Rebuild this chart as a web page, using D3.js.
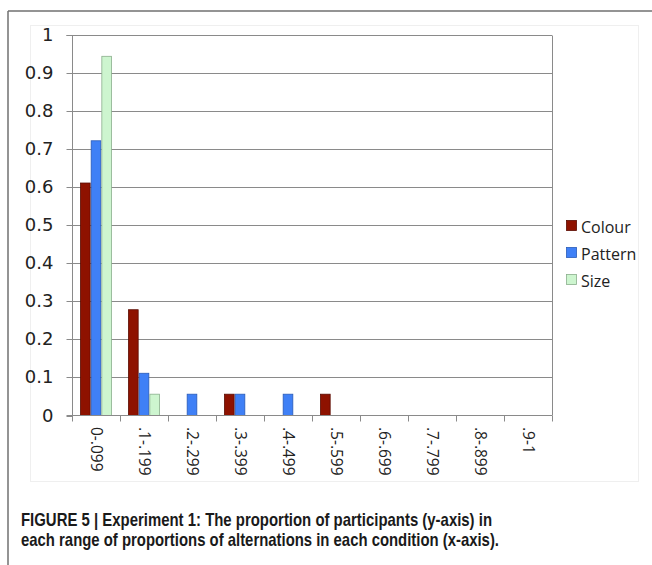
<!DOCTYPE html>
<html><head><meta charset="utf-8">
<script src="https://cdn.jsdelivr.net/npm/d3@7"></script>
<style>body{margin:0;background:#fff}svg{display:block}</style>
</head><body>
<svg id="c" width="652" height="565"></svg>
<script>
const categories = ["0-.099",".1-.199",".2-.299",".3-.399",".4-.499",".5-.599",".6-.699",".7-.799",".8-.899",".9-1"];
const seriesNames = ["Colour","Pattern","Size"];
const colourVals  = [0.611,0.278,0,0.056,0,0.056,0,0,0,0];
const patternVals = [0.722,0.111,0.056,0.056,0.056,0,0,0,0,0];
const sizeVals    = [0.944,0.056,0,0,0,0,0,0,0,0];
const yTicks = [0,0.1,0.2,0.3,0.4,0.5,0.6,0.7,0.8,0.9,1];
const fills   = ["#8e1200","#3f80f6","#cdf5cf"];
const strokes = ["#5a0a00","#2a5bb8","#8aae8c"];
const captionLines = [
  "FIGURE 5 | Experiment 1: The proportion of participants (y-axis) in",
  "each range of proportions of alternations in each condition (x-axis)."
];
const FONT = "'Open Sans', sans-serif";
const TICKFONT = "'DejaVu Sans', sans-serif";

const svg = d3.select("#c");
// figure frame
svg.append("line").attr("x1",8).attr("x2",652).attr("y1",11).attr("y2",11).attr("stroke","#707070").attr("stroke-width",1.5);
svg.append("line").attr("x1",8).attr("x2",8).attr("y1",11).attr("y2",565).attr("stroke","#707070").attr("stroke-width",1.5);
// faint chart area border
svg.append("rect").attr("x",30.5).attr("y",25.5).attr("width",608).attr("height",456).attr("fill","none").attr("stroke","#efefef");

const L=72, R=552, T=35, B=415.5;
const x = d3.scaleBand().domain(categories).range([L,R]).paddingInner(1/3).paddingOuter(1/6);
const xs = d3.scaleBand().domain(seriesNames).range([0,x.bandwidth()]);
const y = d3.scaleLinear().domain([0,1]).range([B,T]);

const g = svg.append("g");
// gridlines
g.selectAll("line.grid").data(yTicks.filter(d=>d>0)).join("line")
  .attr("x1",L).attr("x2",R).attr("y1",d=>Math.round(y(d))+0.5).attr("y2",d=>Math.round(y(d))+0.5)
  .attr("stroke","#8a8a8a").attr("stroke-width",1);
// right border of plot
g.append("line").attr("x1",R+0.5).attr("x2",R+0.5).attr("y1",Math.round(y(1))+0.5).attr("y2",B).attr("stroke","#8a8a8a");

// bars
const series = [colourVals,patternVals,sizeVals];
series.forEach((vals,si)=>{
  g.selectAll("rect.s"+si).data(vals.map((v,i)=>({v,c:categories[i]})).filter(d=>d.v>0)).join("rect")
    .attr("class","s"+si)
    .attr("x",d=>x(d.c)+xs(seriesNames[si])+0.5)
    .attr("width",xs.bandwidth()-1)
    .attr("y",d=>y(d.v))
    .attr("height",d=>B-y(d.v))
    .attr("fill",fills[si]).attr("stroke",strokes[si]).attr("stroke-width",0.8);
});

// y axis
const ya = g.append("g").attr("transform",`translate(${L+0.5},0)`)
  .call(d3.axisLeft(y).tickValues(yTicks).tickFormat(d=>d===0?"0":(d===1?"1":d3.format(".1f")(d))).tickSize(6).tickPadding(13));
ya.attr("font-family",TICKFONT).attr("font-size",18);
ya.select(".domain").attr("stroke","#8a8a8a").attr("d",`M-6,${B}H0V${Math.round(y(1))+0.5}H-6`);
ya.selectAll(".tick line").attr("stroke","#8a8a8a");
ya.selectAll(".tick").attr("transform",d=>`translate(0,${Math.round(y(d))+0.5})`);
ya.selectAll(".tick text").style("font-family",TICKFONT).style("font-size","18px").attr("fill","#222");

// x axis
const boundaries = d3.range(categories.length+1).map(i=>L+i*x.step());
g.append("line").attr("x1",L).attr("x2",R).attr("y1",B).attr("y2",B).attr("stroke","#8a8a8a");
g.selectAll("line.xt").data(boundaries).join("line")
  .attr("x1",d=>d+0.5).attr("x2",d=>d+0.5).attr("y1",B).attr("y2",B+6).attr("stroke","#8a8a8a");
g.selectAll("text.xl").data(categories).join("text")
  .attr("transform",d=>`translate(${x(d)+x.bandwidth()/2},427) rotate(90)`)
  .attr("font-family",FONT).attr("font-size",15.5).attr("fill","#222")
  .attr("dy","0.35em").text(d=>d);

// legend
const lg = svg.append("g").attr("transform","translate(566,227)");
seriesNames.forEach((n,i)=>{
  const row = lg.append("g").attr("transform",`translate(0,${i*27})`);
  row.append("rect").attr("x",0.5).attr("y",-6.5).attr("width",10).attr("height",10).attr("fill",fills[i]).attr("stroke",strokes[i]).attr("stroke-width",0.8);
  row.append("text").attr("x",15).attr("y",0).attr("dy","0.35em")
    .attr("font-family",FONT).attr("font-size",16).attr("fill","#222").text(n);
});

// caption
svg.selectAll("text.cap").data(captionLines).join("text")
  .attr("x",21).attr("y",(d,i)=>526+i*20)
  .attr("font-family","'Liberation Sans Narrow','Arial Narrow','Liberation Sans',sans-serif")
  .attr("font-weight","bold").attr("font-size",18.5).attr("fill","#1a1a1a")
  .attr("textLength",(d,i)=>i===0?471:478).attr("lengthAdjust","spacingAndGlyphs")
  .text(d=>d);
</script>
</body></html>
